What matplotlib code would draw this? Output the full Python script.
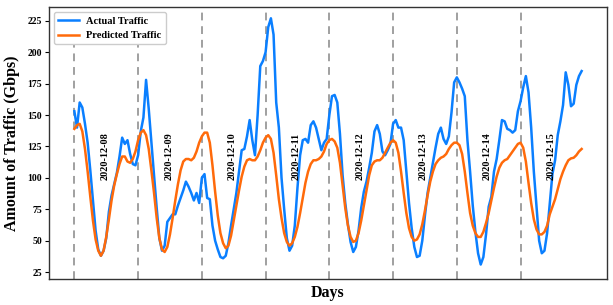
import matplotlib
matplotlib.use("Agg")
import matplotlib.pyplot as plt
import numpy as np

dates = ["2020-12-08", "2020-12-09", "2020-12-10", "2020-12-11",
         "2020-12-12", "2020-12-13", "2020-12-14", "2020-12-15"]
day_starts = [0, 24, 48, 72, 96, 120, 144, 168]
yticks = [25, 50, 75, 100, 125, 150, 175, 200, 225]

actual = [
    153, 140, 160, 156, 143, 128, 106, 82, 58, 43, 38, 42, 52, 73, 86, 95, 104, 117, 132, 127, 130, 119, 111, 110,
    118, 137, 148, 178, 155, 128, 102, 76, 52, 42, 46, 65, 68, 71, 71, 78, 84, 90, 97, 93, 88, 82, 88, 80,
    100, 103, 84, 83, 62, 50, 43, 37, 36, 38, 48, 62, 75, 88, 105, 122, 123, 133, 146, 130, 118, 150, 189, 193,
    200, 220, 227, 214, 160, 140, 100, 75, 52, 42, 46, 62, 92, 118, 130, 131, 128, 142, 145, 140, 131, 122, 128, 131,
    150, 165, 166, 160, 135, 102, 80, 63, 49, 41, 45, 58, 76, 89, 97, 108, 120, 137, 142, 135, 121, 118, 122, 127,
    143, 146, 140, 140, 130, 105, 80, 60, 45, 37, 38, 50, 70, 88, 100, 112, 124, 135, 140, 131, 127, 133, 152, 176,
    180, 176, 171, 165, 130, 105, 78, 57, 40, 31, 37, 55, 77, 85, 105, 115, 130, 146, 145, 139, 138, 136, 138, 153,
    161, 172, 181, 168, 140, 105, 77, 50, 40, 42, 56, 80, 103, 114, 134, 145, 158, 184, 174, 157, 159, 174, 181, 185,
]

predicted = [
    139, 142, 143, 137, 123, 105, 85, 66, 51, 42, 38, 42, 53, 67, 82, 94, 103, 111, 117, 117, 113, 112, 115, 121,
    130, 136, 138, 134, 123, 106, 88, 68, 52, 43, 41, 45, 55, 68, 82, 95, 106, 113, 115, 115, 114, 116, 121, 128,
    133, 136, 136, 128, 110, 89, 70, 56, 48, 44, 46, 54, 66, 78, 90, 101, 109, 114, 115, 114, 114, 117, 122, 128,
    132, 134, 131, 120, 102, 83, 68, 56, 49, 46, 48, 53, 61, 72, 84, 96, 105, 111, 114, 114, 115, 117, 121, 127,
    130, 131, 129, 124, 112, 94, 76, 62, 53, 49, 50, 56, 66, 78, 90, 102, 110, 113, 114, 114, 116, 120, 124, 128,
    130, 128, 120, 105, 88, 72, 60, 53, 50, 51, 55, 63, 74, 86, 97, 105, 111, 114, 116, 117, 119, 123, 126, 128,
    128, 126, 119, 105, 88, 72, 62, 56, 53, 53, 57, 64, 72, 82, 92, 101, 108, 112, 114, 115, 118, 121, 124, 127,
    128, 124, 113, 96, 80, 67, 59, 55, 55, 57, 62, 71, 77, 83, 91, 99, 105, 110, 114, 115.5, 116, 118, 121, 123,
]

hours = np.arange(len(actual))

plt.rcParams['font.family'] = ['Liberation Serif', 'DejaVu Serif']
plt.rcParams['font.weight'] = 'bold'

fig = plt.figure(figsize=(6.13, 3.05), dpi=100)
ax = fig.add_axes([49/613, 26/305, 558/613, 272/305])

for d in day_starts:
    ax.axvline(d, color='#a0a0a0', linestyle=(0, (4, 3)), linewidth=1.4, zorder=1)

ax.plot(hours, actual, color='#0a7fff', linewidth=1.8, label='Actual Traffic', zorder=3)
ax.plot(hours, predicted, color='#ff6a0a', linewidth=1.8, label='Predicted Traffic', zorder=3)

for d, lab in zip(day_starts, dates):
    ax.text(d + 11.5, 98.5, lab, rotation=90, ha='center', va='bottom',
            fontsize=7.4, fontweight='bold')

ax.set_ylim(19.5, 236)
ax.set_yticks(yticks)
ax.set_xticks([])
ax.tick_params(axis='y', labelsize=7, length=3, width=0.8, pad=2)
for lbl in ax.get_yticklabels():
    lbl.set_fontweight('bold')
for s in ax.spines.values():
    s.set_color('#333333')
    s.set_linewidth(1.0)

ax.set_ylabel('Amount of Traffic (Gbps)', fontsize=11.5, fontweight='bold', labelpad=5)
ax.set_xlabel('Days', fontsize=11.5, fontweight='bold', labelpad=4)

leg = ax.legend(loc='upper left', prop={'weight': 'bold', 'size': 7.5},
                borderaxespad=0.5, handlelength=2.0, handletextpad=0.7, framealpha=1.0)

fig.savefig('out.png', dpi=100)
